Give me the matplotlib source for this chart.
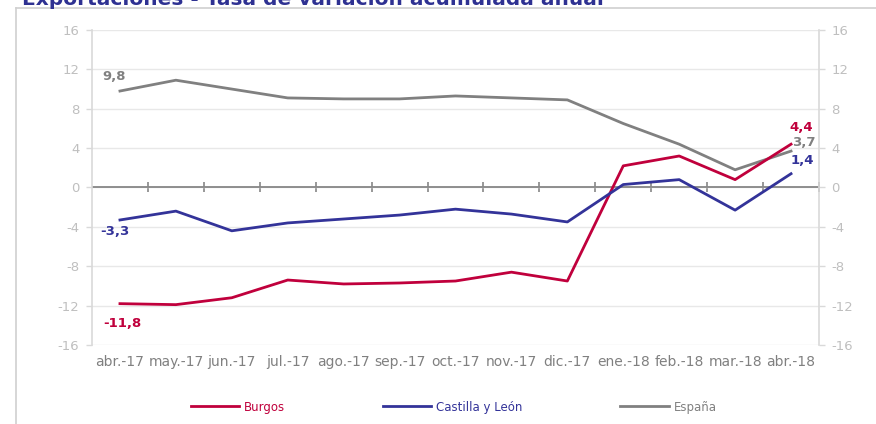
"""Exportaciones - tasa de variación acumulada anual (Burgos, Castilla y León, España)."""

import matplotlib

matplotlib.use("Agg")

import matplotlib.pyplot as plt
from matplotlib.lines import Line2D

plt.rcParams["font.family"] = ["DejaVu Sans"]

months = ["abr.-17", "may.-17", "jun.-17", "jul.-17", "ago.-17", "sep.-17", "oct.-17",
          "nov.-17", "dic.-17", "ene.-18", "feb.-18", "mar.-18", "abr.-18"]
burgos = [-11.8, -11.9, -11.2, -9.4, -9.8, -9.7, -9.5, -8.6, -9.5, 2.2, 3.2, 0.8, 4.4]
castilla = [-3.3, -2.4, -4.4, -3.6, -3.2, -2.8, -2.2, -2.7, -3.5, 0.3, 0.8, -2.3, 1.4]
espana = [9.8, 10.9, 10.0, 9.1, 9.0, 9.0, 9.3, 9.1, 8.9, 6.5, 4.4, 1.8, 3.7]
yticks = [-16, -12, -8, -4, 0, 4, 8, 12, 16]

RED = "#C0003C"
BLUE = "#333399"
GREY = "#808080"
AXIS = "#d9d9d9"
LABEL = "#bfbfbf"

fig = plt.figure(figsize=(8.76, 4.24), dpi=100)
ax = fig.add_axes([92 / 876, 1 - 345 / 424, (819 - 92) / 876, (345 - 30) / 424])

x = list(range(len(months)))
ax.plot(x, burgos, color=RED, lw=2, label="Burgos", zorder=4)
ax.plot(x, castilla, color=BLUE, lw=2, label="Castilla y León", zorder=4)
ax.plot(x, espana, color=GREY, lw=2, label="España", zorder=3)

ax.set_xlim(-0.5, len(months) - 0.5)
ax.set_ylim(yticks[0], yticks[-1])
ax.set_yticks(yticks)
ax.set_yticklabels([str(v) for v in yticks])
ax.grid(axis="y", color="#e8e8e8", lw=1)
ax.set_axisbelow(True)

for side in ("top", "right", "bottom"):
    ax.spines[side].set_visible(False)
ax.spines["left"].set_color(AXIS)
ax.spines["left"].set_linewidth(1.2)
ax.tick_params(axis="y", colors=AXIS, labelcolor=LABEL, labelsize=9.5, length=4, width=1, pad=5)

ax.set_xticks(x)
ax.set_xticklabels(months)
ax.tick_params(axis="x", length=0, labelsize=10, labelcolor="#808080", pad=7)

# zero line with category-boundary ticks
ax.axhline(0, color="#868686", lw=1.3, zorder=2)
zero = ax.secondary_xaxis(0.5)
zero.set_xticks([i + 0.5 for i in x[:-1]] + [x[-1] + 0.5])
zero.set_xticklabels([])
zero.tick_params(direction="inout", length=7, width=1.2, color="#868686")
zero.spines["bottom"].set_visible(False)
zero.spines["top"].set_visible(False)

# right-hand axis, same scale
ax2 = ax.twinx()
ax2.set_ylim(ax.get_ylim())
ax2.set_yticks(yticks)
ax2.set_yticklabels([str(v) for v in yticks])
for side in ("top", "left", "bottom"):
    ax2.spines[side].set_visible(False)
ax2.spines["right"].set_color(AXIS)
ax2.spines["right"].set_linewidth(1.2)
ax2.tick_params(axis="y", colors=AXIS, labelcolor=LABEL, labelsize=9.5, length=4, width=1, pad=5)


def fmt(v):
    return f"{v:.1f}".replace(".", ",")


# data labels at the first and last points
lab = dict(fontsize=9.5, fontweight="bold", textcoords="offset points")
ax.annotate(fmt(espana[0]), (x[0], espana[0]), xytext=(-13, 5.5), va="bottom", color=GREY, **lab)
ax.annotate(fmt(castilla[0]), (x[0], castilla[0]), xytext=(-14, -3.5), va="top", color=BLUE, **lab)
ax.annotate(fmt(burgos[0]), (x[0], burgos[0]), xytext=(-12, -9.5), va="top", color=RED, **lab)
ax.annotate(fmt(burgos[-1]), (x[-1], burgos[-1]), xytext=(-1.5, 7.5), va="bottom", color=RED, **lab)
ax.annotate(fmt(espana[-1]), (x[-1], espana[-1]), xytext=(0.5, 1.5), va="bottom", color=GREY, **lab)
ax.annotate(fmt(castilla[-1]), (x[-1], castilla[-1]), xytext=(0, 4.5), va="bottom", color=BLUE, **lab)

# legend, one entry per series spaced across the bottom
handles, names = ax.get_legend_handles_labels()
leg = fig.legend(handles, names, loc="center", bbox_to_anchor=(0.5177, 1 - 407 / 424),
                 ncol=3, frameon=False, fontsize=8.5, handlelength=4.1, handletextpad=0.4,
                 columnspacing=8.3)
for text, line in zip(leg.get_texts(), handles):
    text.set_color(line.get_color())

# outer frame and clipped title
fig.add_artist(Line2D([16 / 876, 16 / 876], [0, 1 - 8 / 424], color="#d0d0d0", lw=1.2))
fig.add_artist(Line2D([16 / 876, 1], [1 - 8 / 424, 1 - 8 / 424], color="#d0d0d0", lw=1.2))
fig.text(22 / 876, 1 - 5 / 424, "Exportaciones - Tasa de variación acumulada anual",
         color="#2E3192", fontsize=14.5, fontweight="bold", va="baseline", ha="left")

fig.savefig("out.png", dpi=100)
plt.close(fig)
